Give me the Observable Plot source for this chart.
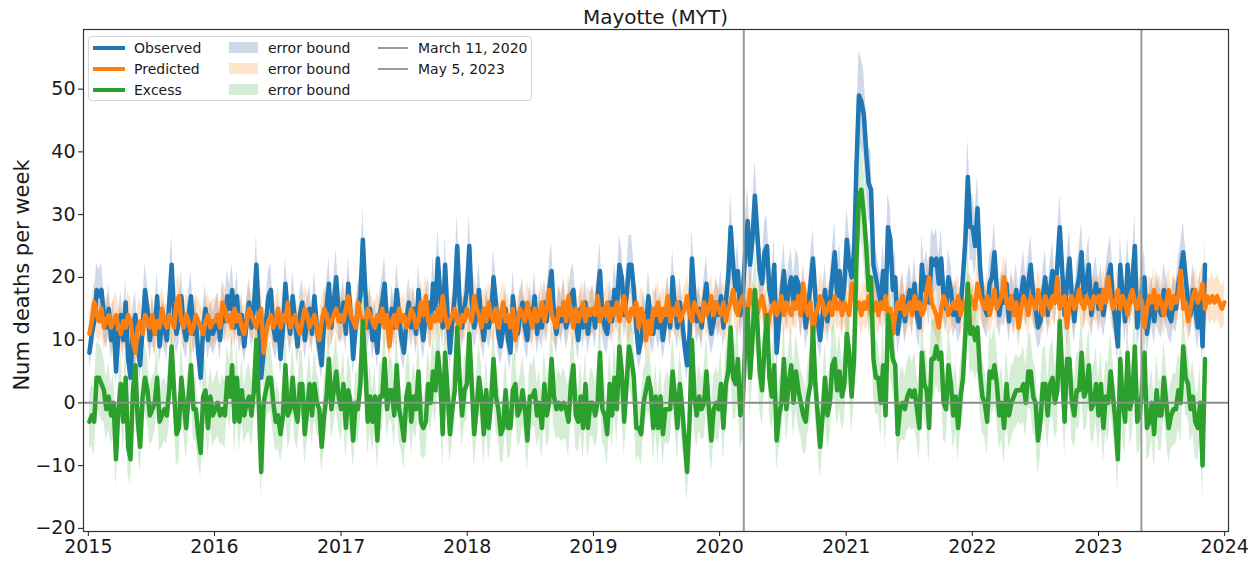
<!DOCTYPE html>
<html>
<head>
<meta charset="utf-8">
<script src="https://cdn.jsdelivr.net/npm/d3@7"></script>
<script src="https://cdn.jsdelivr.net/npm/@observablehq/plot@0.6"></script>
<style>
  body { margin: 0; background: #fff; }
  #wrap { position: relative; width: 1259px; height: 561px; font-family: "DejaVu Sans", sans-serif; color: #1a1a1a; }
  #title { position: absolute; left: 83px; width: 1145px; top: 5px; text-align: center; font-size: 20px; }
  #ylab { position: absolute; left: 22px; top: 275px; transform: translate(-50%, -50%) rotate(-90deg); white-space: nowrap; font-size: 21px; }
  #legend { position: absolute; left: 88px; top: 36px; width: 444px; height: 65px; background: rgba(255,255,255,0.85); border: 1px solid #d6d6d6; border-radius: 4px; box-sizing: border-box; font-size: 14px; }
  .li { position: absolute; white-space: nowrap; line-height: 16px; }
  .h { position: absolute; }
</style>
</head>
<body>
<div id="wrap">
  <div id="chart"></div>
  <div id="title">Mayotte (MYT)</div>
  <div id="ylab">Num deaths per week</div>
  <div id="legend"></div>
</div>
<script>
// Weekly observed deaths
const obs2015 = [8,11,13,18,17, 18,14,12,15,10, 13,5,11,14,10, 16,7,4,12,14, 9,6,12,18,15, 10,13,11,17,9, 13,12,10,16,22, 14,11,13,17,12, 10,14,17,11,13, 8,4,12,15,10, 13,11];
const obs2016 = [12,14,10,15,13, 17,15,18,12,17, 11,14,9,13,16, 12,15,22,14,4, 8,13,17,18,12, 10,13,7,12,19, 14,11,17,13,9, 14,16,10,13,15, 11,17,12,9,6, 13,15,19,12,16, 20,14];
const obs2017 = [13,16,11,19,14, 7,12,15,17,26, 18,12,15,10,13, 8,14,16,19,13, 11,15,12,18,14, 10,8,13,16,12, 15,11,18,13,10, 14,16,12,19,15, 23,17,12,22,14, 8,13,17,25,16, 12,15];
const obs2018 = [18,25,16,12,14, 18,13,10,15,12, 14,20,16,11,9, 12,15,10,8,17, 13,11,14,16,12, 10,15,13,17,11, 14,12,16,13,18, 21,14,11,15,13, 16,12,14,17,18, 13,10,15,12,16, 11,14];
const obs2019 = [15,12,17,21,14, 12,11,16,13,18, 15,22,20,14,17, 22,22,18,12,8, 10,14,12,17,13, 11,15,12,14,10, 13,16,12,20,15, 12,16,13,9,6, 11,23,17,13,15, 12,16,19,14,11, 13,16];
const obs2020 = [14,17,12,16,20, 28,22,18,21,14, 17,24,29,22,26, 33,27,21,19,24, 25,18,16,22,8, 13,17,21,15,18, 20,16,20,19,14, 17,12,15,19,23, 17,13,10,14,18, 13,16,20,24,17, 21,15];
const obs2021 = [19,26,22,20,24, 38,49,48,46,40, 35,34,22,20,18, 16,21,15,28,26, 18,20,11,14,17, 13,16,18,15,19, 14,12,22,18,20, 16,23,22,23,19, 23,17,15,20,18, 14,16,13,15,20, 26,36];
const obs2022 = [28,28,25,31,22, 17,15,14,19,20, 24,18,14,17,16, 19,13,17,15,18, 14,17,20,16,19, 22,17,15,12,13, 17,20,14,18,21, 16,22,28,21,14, 19,23,17,13,18, 20,24,16,19,22, 14,17];
const obs2023 = [19,15,18,14,17, 20,22,16,13,9, 22,17,13,22,16, 19,25,12,15,18, 20,11,14,16,13, 17,15,14,18,16, 14,13,16,15,19, 21,24,20,16,14, 18,15,12,17,9, 22];

// Weekly predicted deaths
const pred2015 = [11,13,16,14,13, 15,12,13,14,12, 13,14,12,11,13, 12,14,13,10,8, 12,13,11,14,13, 12,14,11,13,12, 15,13,12,14,13, 12,16,17,13,12, 14,13,11,12,14, 13,12,11,13,14, 12,13];
const pred2016 = [13,14,12,16,15, 13,14,12,15,13, 14,12,11,13,15, 14,13,12,14,15, 8,11,13,14,12, 13,15,12,14,13, 16,12,13,14,12, 11,13,15,14,12, 13,14,12,10,13, 15,14,12,13,14, 15,13];
const pred2017 = [14,13,15,17,14, 13,12,16,14,13, 12,15,14,13,12, 14,13,15,12,14, 9,13,14,12,15, 13,14,12,13,15, 14,12,13,16,14, 17,13,12,14,13, 15,13,17,14,12, 13,14,15,13,12, 14,13];
const pred2018 = [15,14,13,17,15, 14,12,15,13,16, 14,13,15,12,14, 16,13,14,12,15, 10,13,15,14,13, 16,14,12,15,13, 14,16,13,15,18, 14,13,12,15,14, 16,13,17,14,12, 15,13,14,16,13, 15,14];
const pred2019 = [15,14,17,13,15, 14,16,13,15,14, 16,13,15,17,14, 13,15,14,16,12, 15,14,10,13,11, 15,14,16,13,15, 14,17,13,15,14, 16,13,14,15,17, 14,13,16,15,14, 13,16,14,15,17, 14,16];
const pred2020 = [15,14,16,13,15, 16,18,15,14,16, 17,15,14,18,16, 15,14,16,17,15, 11,14,15,16,14, 15,17,14,16,15, 14,16,15,17,14, 19,15,14,16,11, 14,15,17,16,14, 15,16,14,17,15, 16,14];
const pred2021 = [16,15,14,19,17, 15,16,14,16,15, 17,14,15,16,14, 16,15,17,14,15, 11,14,16,15,17, 14,15,16,14,17, 15,16,14,15,18, 20,16,15,14,12, 15,17,16,14,15, 16,15,17,14,16, 15,17];
const pred2022 = [17,16,15,19,17, 16,15,17,14,16, 18,15,16,17,20, 16,15,17,14,16, 12,15,17,16,14, 17,16,15,18,16, 14,17,16,15,17, 16,20,15,16,17, 12,16,17,15,16, 18,16,15,17,16, 15,17];
const pred2023 = [16,17,15,18,16, 20,17,15,16,18, 15,17,16,14,17, 18,16,15,17,16, 12,15,17,16,18, 15,17,16,14,16, 18,15,17,16,17, 21,15,16,13,15, 17,18,16,17,19, 15,17,16,17,16, 17,16,15,16];

const yTicks = [-20, -10, 0, 10, 20, 30, 40, 50];
const xTickYears = [2015, 2016, 2017, 2018, 2019, 2020, 2021, 2022, 2023, 2024];
const markerDates = ["2020-03-11", "2023-05-05"];
const markerLabels = ["March 11, 2020", "May 5, 2023"];
const predHalfWidth = 3.5; // half-width of the predicted error band

const C = { obs: "#1f77b4", pred: "#ff7f0e", exc: "#2ca02c", grey: "#999999" };

const observed = [...obs2015, ...obs2016, ...obs2017, ...obs2018, ...obs2019, ...obs2020, ...obs2021, ...obs2022, ...obs2023];
const predicted = [...pred2015, ...pred2016, ...pred2017, ...pred2018, ...pred2019, ...pred2020, ...pred2021, ...pred2022, ...pred2023];
const weekDate = i => new Date(Date.UTC(2015, 0, 4 + 7 * i));

const predRows = predicted.map((p, i) => ({ date: weekDate(i), pred: p, lo: p - predHalfWidth, hi: p + predHalfWidth }));
const obsRows = observed.map((o, i) => {
  const p = predicted[i], e = o - p, s = Math.sqrt(o), se = Math.sqrt(o + p);
  return { date: weekDate(i), obs: o, olo: o - s, ohi: o + s, exc: e, elo: e - se, ehi: e + se };
});

const chart = Plot.plot({
  width: 1259,
  height: 561,
  marginLeft: 83,
  marginRight: 31,
  marginTop: 29,
  marginBottom: 30,
  style: { fontFamily: "DejaVu Sans, sans-serif", fontSize: "19px", color: "#1a1a1a", background: "#fff" },
  x: {
    type: "utc",
    domain: [new Date(Date.UTC(2014, 11, 18)), new Date(Date.UTC(2024, 0, 12))],
    ticks: xTickYears.map(y => new Date(Date.UTC(y, 0, 1))),
    tickFormat: d3.utcFormat("%Y"),
    tickSize: 5,
    tickPadding: 3,
    label: null
  },
  y: {
    domain: [-20.5, 59.5],
    ticks: yTicks,
    tickSize: 5,
    tickPadding: 3,
    label: null
  },
  marks: [
    Plot.areaY(obsRows, { x: "date", y1: "olo", y2: "ohi", fill: "#4c72b0", fillOpacity: 0.27 }),
    Plot.areaY(predRows, { x: "date", y1: "lo", y2: "hi", fill: C.pred, fillOpacity: 0.22 }),
    Plot.areaY(obsRows, { x: "date", y1: "elo", y2: "ehi", fill: C.exc, fillOpacity: 0.2 }),
    Plot.lineY(obsRows, { x: "date", y: "obs", stroke: C.obs, strokeWidth: 4.5 }),
    Plot.lineY(predRows, { x: "date", y: "pred", stroke: C.pred, strokeWidth: 4.5 }),
    Plot.lineY(obsRows, { x: "date", y: "exc", stroke: C.exc, strokeWidth: 4.5 }),
    Plot.ruleY([0], { stroke: "#8c8c8c", strokeWidth: 2 }),
    Plot.ruleX(markerDates.map(d => new Date(d + "T00:00:00Z")), { stroke: C.grey, strokeWidth: 2 }),
    Plot.frame({ stroke: "#333", strokeWidth: 1.2 })
  ]
});
document.getElementById("chart").appendChild(chart);

// Legend (3 columns)
const legend = document.getElementById("legend");
const lineItems = [["Observed", C.obs], ["Predicted", C.pred], ["Excess", C.exc]];
const bandItems = [["error bound", "#4c72b0", 0.27], ["error bound", C.pred, 0.22], ["error bound", C.exc, 0.2]];
const rowY = [11, 32, 53];
lineItems.forEach(([t, c], r) => {
  legend.insertAdjacentHTML("beforeend",
    `<div class="h" style="left:4px;top:${rowY[r] - 2}px;width:32px;height:4px;background:${c}"></div>
     <div class="li" style="left:45px;top:${rowY[r] - 8}px">${t}</div>`);
});
bandItems.forEach(([t, c, o], r) => {
  legend.insertAdjacentHTML("beforeend",
    `<div class="h" style="left:140px;top:${rowY[r] - 6}px;width:29px;height:11px;background:${c};opacity:${o}"></div>
     <div class="li" style="left:179px;top:${rowY[r] - 8}px">${t}</div>`);
});
markerLabels.forEach((t, r) => {
  legend.insertAdjacentHTML("beforeend",
    `<div class="h" style="left:289px;top:${rowY[r] - 1}px;width:30px;height:2px;background:${C.grey}"></div>
     <div class="li" style="left:329px;top:${rowY[r] - 8}px">${t}</div>`);
});
</script>
</body>
</html>
